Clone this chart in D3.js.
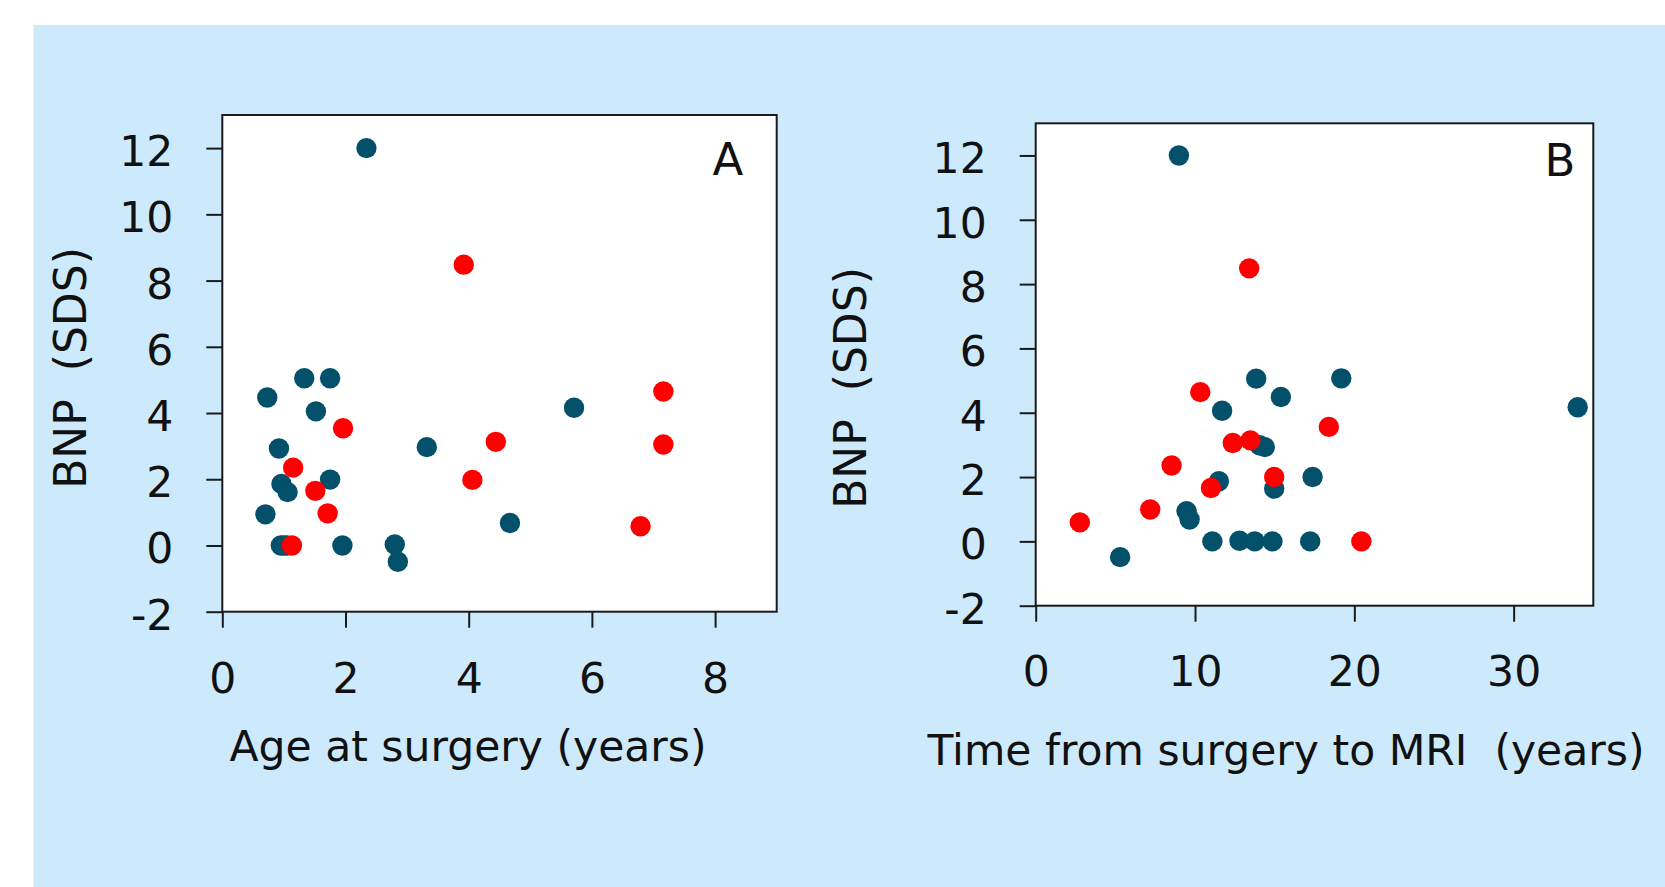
<!DOCTYPE html>
<html>
<head>
<meta charset="utf-8">
<script src="https://cdn.jsdelivr.net/npm/d3@7"></script>
<style>
  html, body { margin: 0; padding: 0; background: #ffffff; }
  svg { display: block; }
  text { font-family: "DejaVu Sans", Verdana, sans-serif; fill: #111; }
</style>
</head>
<body>
<svg id="chart" width="1665" height="887"></svg>
<script>
// ---------- data ----------
// Panel A: age at surgery (years) vs BNP (SDS)
const ageTeal  = [2.34, 1.33, 1.75, 0.73, 1.52, 5.71, 0.92, 3.32, 0.96, 1.06, 1.75, 0.70, 0.95, 1.00, 1.05, 1.95, 2.80, 2.85, 4.67];
const bnpATeal = [12.0, 5.05, 5.05, 4.47, 4.05, 4.16, 2.93, 2.97, 1.86, 1.61, 1.99, 0.94, 0.00, 0.00, 0.00, 0.00, 0.03, -0.49, 0.68];
const ageRed   = [3.92, 7.16, 7.16, 1.96, 4.44, 1.15, 4.06, 1.51, 1.71, 6.79, 1.13];
const bnpARed  = [8.48, 4.65, 3.05, 3.54, 3.13, 2.35, 1.98, 1.65, 0.97, 0.58, 0.00];

// Panel B: time from surgery to MRI (years) vs BNP (SDS)
const timeTeal = [8.99, 13.84, 15.39, 11.70, 14.05, 14.38, 11.50, 14.97, 17.38, 9.47, 9.66, 11.09, 12.79, 13.75, 14.86, 17.23, 5.30, 19.18, 34.02];
const bnpBTeal = [12.0, 5.06, 4.49, 4.06, 2.99, 2.93, 1.87, 1.64, 2.00, 0.94, 0.68, 0.00, 0.02, 0.00, 0.00, 0.00, -0.49, 5.07, 4.17];
const timeRed  = [13.40, 10.33, 12.37, 13.48, 8.53, 11.00, 14.97, 7.19, 2.77, 18.40, 20.44];
const bnpBRed  = [8.49, 4.64, 3.06, 3.14, 2.36, 1.66, 2.00, 0.99, 0.59, 3.56, 0.00];

// ticks / labels
const yTicks  = [-2, 0, 2, 4, 6, 8, 10, 12];
const xTicksA = [0, 2, 4, 6, 8];
const xTicksB = [0, 10, 20, 30];
const yTitle  = "BNP  (SDS)";
const xTitleA = "Age at surgery (years)";
const xTitleB = "Time from surgery to MRI  (years)";
const panelLetters = ["A", "B"];

// ---------- drawing ----------
const svg = d3.select("#chart");
const TEAL = "#02506a", RED = "#ff0000";

svg.append("rect").attr("x", 33.5).attr("y", 25).attr("width", 1665 - 33.5).attr("height", 887 - 25)
  .attr("fill", "#cdeafd");

function zip(a, b) { return a.map((v, i) => [v, b[i]]); }

function panel(cfg) {
  const x = d3.scaleLinear().domain(cfg.xDomain).range([cfg.left, cfg.right]);
  const y = d3.scaleLinear().domain([-2, 13]).range([cfg.bottom, cfg.top]);
  const g = svg.append("g");

  g.append("rect")
    .attr("x", cfg.left).attr("y", cfg.top)
    .attr("width", cfg.right - cfg.left).attr("height", cfg.bottom - cfg.top)
    .attr("fill", "#ffffff").attr("stroke", "#1a1a1a").attr("stroke-width", 2);

  // y axis
  const ya = g.append("g").attr("transform", `translate(${cfg.left},0)`)
    .call(d3.axisLeft(y).tickValues(yTicks).tickSizeInner(16).tickSizeOuter(0).tickPadding(33).tickFormat(d3.format("d")));
  ya.select(".domain").remove();
  ya.selectAll(".tick line").attr("stroke", "#1a1a1a").attr("stroke-width", 2);
  ya.selectAll(".tick text").attr("font-size", 42.5).attr("dy", "0.41em")
    .attr("font-family", "DejaVu Sans").attr("fill", "#111").text(d => d < 0 ? "-" + Math.abs(d) : d);

  // x axis
  const xa = g.append("g").attr("transform", `translate(0,${cfg.bottom})`)
    .call(d3.axisBottom(x).tickValues(cfg.xTicks).tickSizeInner(16).tickSizeOuter(0).tickFormat(d3.format("d")));
  xa.select(".domain").remove();
  xa.selectAll(".tick line").attr("stroke", "#1a1a1a").attr("stroke-width", 2);
  xa.selectAll(".tick text").attr("font-size", 42.5).attr("y", cfg.xLabelBase).attr("dy", 0)
    .attr("font-family", "DejaVu Sans").attr("fill", "#111");

  // points: teal first, red on top
  g.append("g").selectAll("circle").data(zip(cfg.tealX, cfg.tealY)).join("circle")
    .attr("cx", d => x(d[0])).attr("cy", d => y(d[1])).attr("r", 10.2).attr("fill", TEAL);
  g.append("g").selectAll("circle").data(zip(cfg.redX, cfg.redY)).join("circle")
    .attr("cx", d => x(d[0])).attr("cy", d => y(d[1])).attr("r", 10.2).attr("fill", RED);

  // panel letter
  g.append("text").attr("x", cfg.letterX).attr("y", cfg.letterY).attr("text-anchor", "middle")
    .attr("font-size", 45).text(cfg.letter);

  // x title
  g.append("text").attr("x", cfg.xTitleX).attr("y", cfg.xTitleY).attr("text-anchor", "middle")
    .attr("font-size", 42.5).style("white-space", "pre").text(cfg.xTitle);

  // y title
  g.append("text").attr("transform", `translate(${cfg.yTitleX},${cfg.yTitleY}) rotate(-90)`)
    .attr("text-anchor", "middle").attr("font-size", 44).style("white-space", "pre").text(yTitle);
}

panel({
  left: 222.3, right: 776.7, top: 115, bottom: 611.7, xDomain: [0, 9], xTicks: xTicksA,
  xLabelBase: 81,
  tealX: ageTeal, tealY: bnpATeal, redX: ageRed, redY: bnpARed,
  letter: panelLetters[0], letterX: 728, letterY: 175,
  xTitle: xTitleA, xTitleX: 468, xTitleY: 761,
  yTitleX: 86, yTitleY: 368
});

panel({
  left: 1035.7, right: 1593.3, top: 123.3, bottom: 605.7, xDomain: [0, 35], xTicks: xTicksB,
  xLabelBase: 80,
  tealX: timeTeal, tealY: bnpBTeal, redX: timeRed, redY: bnpBRed,
  letter: panelLetters[1], letterX: 1560, letterY: 175.5,
  xTitle: xTitleB, xTitleX: 1286, xTitleY: 765,
  yTitleX: 866, yTitleY: 388
});
</script>
</body>
</html>
